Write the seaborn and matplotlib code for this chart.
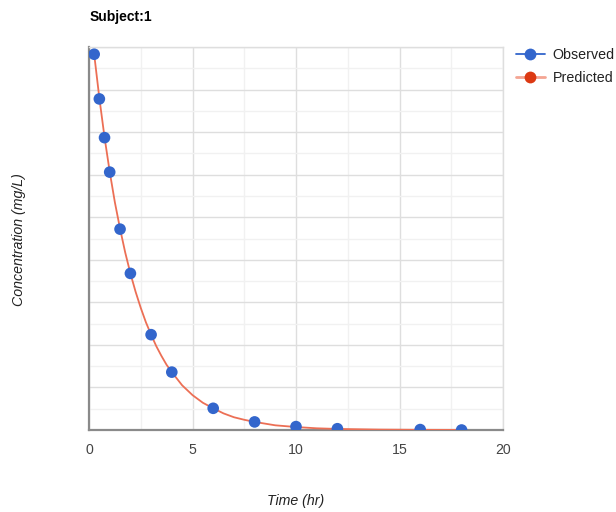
import numpy as np
import pandas as pd
import matplotlib
matplotlib.use("Agg")
import matplotlib.pyplot as plt
from matplotlib.lines import Line2D
from matplotlib.ticker import MultipleLocator
import seaborn as sns

# observed concentrations (y axis has no labels)
obs_time = [0.25, 0.5, 0.75, 1, 1.5, 2, 3, 4, 6, 8, 10, 12, 16, 18]
obs_conc = [8.83, 7.78, 6.87, 6.06, 4.72, 3.68, 2.24, 1.36, 0.51, 0.19, 0.08, 0.03, 0.01, 0.0]

# predicted curve, read at extra times so the line looks smooth
pred_time = [0.25, 0.5, 0.75, 1, 1.25, 1.5, 1.75, 2, 2.25, 2.5, 2.75, 3, 3.25, 3.5, 3.75, 4,
             4.5, 5, 5.5, 6, 6.5, 7, 7.5, 8, 9, 10, 11, 12, 14, 16, 18]
pred_conc = [8.83, 7.80, 6.88, 6.07, 5.35, 4.73, 4.17, 3.68, 3.25, 2.87, 2.53, 2.24, 1.97,
             1.74, 1.53, 1.36, 1.05, 0.82, 0.64, 0.51, 0.39, 0.30, 0.24, 0.19, 0.11, 0.07,
             0.04, 0.025, 0.01, 0.004, 0.002]

obs = pd.DataFrame({'time': obs_time, 'conc': obs_conc})
pred = pd.DataFrame({'time': pred_time, 'conc': pred_conc})

sns.set_style("white")
plt.rcParams['font.family'] = ['Liberation Sans', 'DejaVu Sans']

fig = plt.figure(figsize=(6.16, 5.12), dpi=100)
ax = fig.add_axes([89 / 616, 1 - 430 / 512, 414 / 616, 383 / 512])

sns.lineplot(data=pred, x='time', y='conc', ax=ax, color='#ec6f55', linewidth=1.3,
             zorder=3, legend=False)
sns.scatterplot(data=obs, x='time', y='conc', ax=ax, color='#3366cc', s=70,
                edgecolor='none', zorder=4, legend=False)

ax.set_xlim(0, 20)
ax.set_ylim(0, 9)
ax.xaxis.set_major_locator(MultipleLocator(5))
ax.xaxis.set_minor_locator(MultipleLocator(2.5))
ax.yaxis.set_major_locator(MultipleLocator(1))
ax.yaxis.set_minor_locator(MultipleLocator(0.5))
ax.grid(which='major', color='#dedede', linewidth=1.0, zorder=0)
ax.grid(which='minor', color='#f1f1f1', linewidth=1.0, zorder=0)
ax.set_axisbelow(True)

for side in ['top', 'right']:
    ax.spines[side].set_color('#dedede')
    ax.spines[side].set_linewidth(1.0)
for side in ['left', 'bottom']:
    ax.spines[side].set_color('#8a8a8a')
    ax.spines[side].set_linewidth(1.6)

ax.tick_params(axis='both', which='both', length=0)
ax.tick_params(axis='x', labelsize=10.2, labelcolor='#444444', pad=9)
ax.set_yticklabels([])

ax.set_xlabel('Time (hr)', fontsize=10.2, style='italic', color='#222222')
ax.xaxis.set_label_coords(0.5, -0.168)
ax.set_ylabel('Concentration (mg/L)', fontsize=10.2, style='italic', color='#222222')
ax.yaxis.set_label_coords(-0.153, 0.496)

fig.text(90 / 616, 1 - 17 / 512, 'Subject:1', fontsize=10, fontweight='bold',
         color='#000000', ha='left', va='center')

handles = [
    Line2D([0], [0], color='#3366cc', linewidth=1.3, marker='o', markersize=8.5,
           markerfacecolor='#3366cc', markeredgecolor='none'),
    Line2D([0], [0], color='#f4a593', linewidth=2, marker='o', markersize=8.5,
           markerfacecolor='#dc3912', markeredgecolor='none'),
]
fig.legend(handles, ['Observed', 'Predicted'], loc='upper left',
           bbox_to_anchor=(516 / 616, 1 - 48 / 512), frameon=False, fontsize=10.3,
           handlelength=2.0, handletextpad=0.55, labelspacing=0.62, borderpad=0,
           borderaxespad=0, labelcolor='#222222')

fig.savefig('out.png', dpi=100)
